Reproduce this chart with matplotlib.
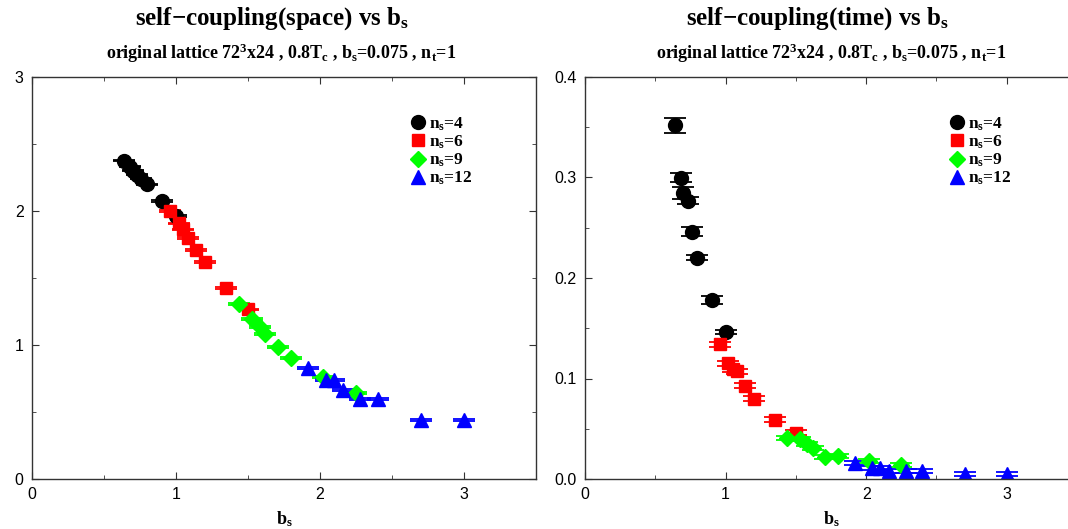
import numpy as np
import matplotlib
matplotlib.use("Agg")
from matplotlib import pyplot as plt
from matplotlib.ticker import MultipleLocator

plt.rcParams['font.family'] = ['Liberation Sans', 'DejaVu Sans']
plt.rcParams['mathtext.fontset'] = 'custom'
plt.rcParams['mathtext.rm'] = 'Liberation Serif:bold'
plt.rcParams['mathtext.it'] = 'Liberation Serif:bold'
plt.rcParams['mathtext.bf'] = 'Liberation Serif:bold'

SERIF = ['Liberation Serif', 'DejaVu Serif']

# b_s values per blocking level
bs_n4 = [0.64, 0.68, 0.70, 0.73, 0.76, 0.80, 0.90, 1.00]
bs_n6 = [0.96, 1.02, 1.05, 1.08, 1.14, 1.20, 1.35, 1.50]
bs_n9 = [1.44, 1.53, 1.58, 1.62, 1.71, 1.80, 2.02, 2.25]
bs_n12 = [1.92, 2.04, 2.10, 2.16, 2.28, 2.40, 2.70, 3.00]

# self-coupling (space)
sp_n4 = [2.375, 2.33, 2.30, 2.27, 2.24, 2.20, 2.075, 1.963]
sp_n6 = [2.00, 1.908, 1.863, 1.80, 1.71, 1.62, 1.427, 1.266]
sp_n9 = [1.306, 1.192, 1.137, 1.082, 0.982, 0.903, 0.764, 0.644]
sp_n12 = [0.826, 0.739, 0.739, 0.664, 0.595, 0.595, 0.44, 0.44]
sp_err_n4 = [0.004, 0.004, 0.004, 0.004, 0.004, 0.004, 0.005, 0.005]
sp_err_n6 = [0.006, 0.006, 0.006, 0.006, 0.006, 0.006, 0.006, 0.006]
sp_err_n9 = [0.008, 0.008, 0.008, 0.008, 0.008, 0.008, 0.008, 0.008]
sp_err_n12 = [0.008, 0.008, 0.008, 0.008, 0.008, 0.008, 0.008, 0.008]

# self-coupling (time)
tm_n4 = [0.352, 0.300, 0.285, 0.277, 0.246, 0.220, 0.178, 0.146]
tm_n6 = [0.134, 0.115, 0.109, 0.107, 0.093, 0.080, 0.059, 0.046]
tm_n9 = [0.0405, 0.0395, 0.0348, 0.0305, 0.0222, 0.0229, 0.0182, 0.0139]
tm_n12 = [0.0156, 0.0112, 0.0112, 0.0083, 0.0083, 0.0083, 0.005, 0.005]
tm_err_n4 = [0.0075, 0.0047, 0.006, 0.0033, 0.0047, 0.0025, 0.0038, 0.0022]
tm_err_n6 = [0.0028, 0.0028, 0.0025, 0.0025, 0.0025, 0.0027, 0.0027, 0.0025]
tm_err_n9 = [0.002, 0.002, 0.002, 0.002, 0.002, 0.002, 0.002, 0.002]
tm_err_n12 = [0.002, 0.002, 0.002, 0.002, 0.002, 0.002, 0.002, 0.002]

labels = [r'n$_s$=4', r'n$_s$=6', r'n$_s$=9', r'n$_s$=12']
colors = ['black', '#ff0000', '#00ff00', '#0000ff']
markers = ['o', 's', 'D', '^']
msizes = [10, 9, 8, 10]

W, H = 1068, 529
fig = plt.figure(figsize=(W / 100, H / 100), dpi=100)
ax1 = fig.add_axes([32 / W, 1 - 479 / H, 504 / W, 402 / H])
ax2 = fig.add_axes([585 / W, 1 - 479 / H, 492 / W, 402 / H])

xs = [bs_n4, bs_n6, bs_n9, bs_n12]
panels = [
    (ax1, [sp_n4, sp_n6, sp_n9, sp_n12], [sp_err_n4, sp_err_n6, sp_err_n9, sp_err_n12], 0.745),
    (ax2, [tm_n4, tm_n6, tm_n9, tm_n12], [tm_err_n4, tm_err_n6, tm_err_n9, tm_err_n12], 0.735),
]

for ax, ys, errs, lx in panels:
    for i in range(4):
        ax.errorbar(xs[i], ys[i], yerr=errs[i], fmt=markers[i], color=colors[i],
                    ms=msizes[i], elinewidth=1.0, capsize=8, capthick=1.3,
                    label=labels[i])
    ax.set_xlim(0, 3.5)
    ax.xaxis.set_major_locator(MultipleLocator(1))
    ax.xaxis.set_minor_locator(MultipleLocator(0.5))
    ax.tick_params(which='both', direction='in', top=True, right=True,
                   labelsize=11.5, color='#333333', pad=6)
    ax.tick_params(which='major', length=5)
    ax.tick_params(which='minor', length=3)
    for sp in ax.spines.values():
        sp.set_color('#333333')
        sp.set_linewidth(1.0)
    ax.set_xlabel(r'b$_s$', fontsize=13, fontweight='bold', family=SERIF, labelpad=5)
    handles, lbls = ax.get_legend_handles_labels()
    handles = [h[0] for h in handles]
    ax.legend(handles, lbls, loc='upper left', bbox_to_anchor=(lx, 0.905),
              frameon=False, prop={'family': SERIF, 'weight': 'bold', 'size': 12.5},
              handletextpad=0.05, labelspacing=0.05, handlelength=1.2,
              borderaxespad=0, borderpad=0)

ax1.set_ylim(0, 3)
ax1.yaxis.set_major_locator(MultipleLocator(1))
ax1.yaxis.set_minor_locator(MultipleLocator(0.5))
ax2.set_ylim(0, 0.4)
ax2.yaxis.set_major_locator(MultipleLocator(0.1))
ax2.yaxis.set_minor_locator(MultipleLocator(0.05))

sub = r'original lattice 72$^3$x24 , 0.8T$_c$ , b$_s$=0.075 , n$_t$=1'
tfont = dict(family=SERIF, fontweight='bold', ha='center', va='center')
fig.text(272 / W, 1 - 19 / H, 'self\u2212coupling(space) vs b$_s$', fontsize=18, **tfont)
fig.text(281 / W, 1 - 53 / H, sub, fontsize=13, **tfont)
fig.text(818 / W, 1 - 19 / H, 'self\u2212coupling(time) vs b$_s$', fontsize=18, **tfont)
fig.text(831 / W, 1 - 53 / H, sub, fontsize=13, **tfont)

fig.savefig('out.png', dpi=100)
